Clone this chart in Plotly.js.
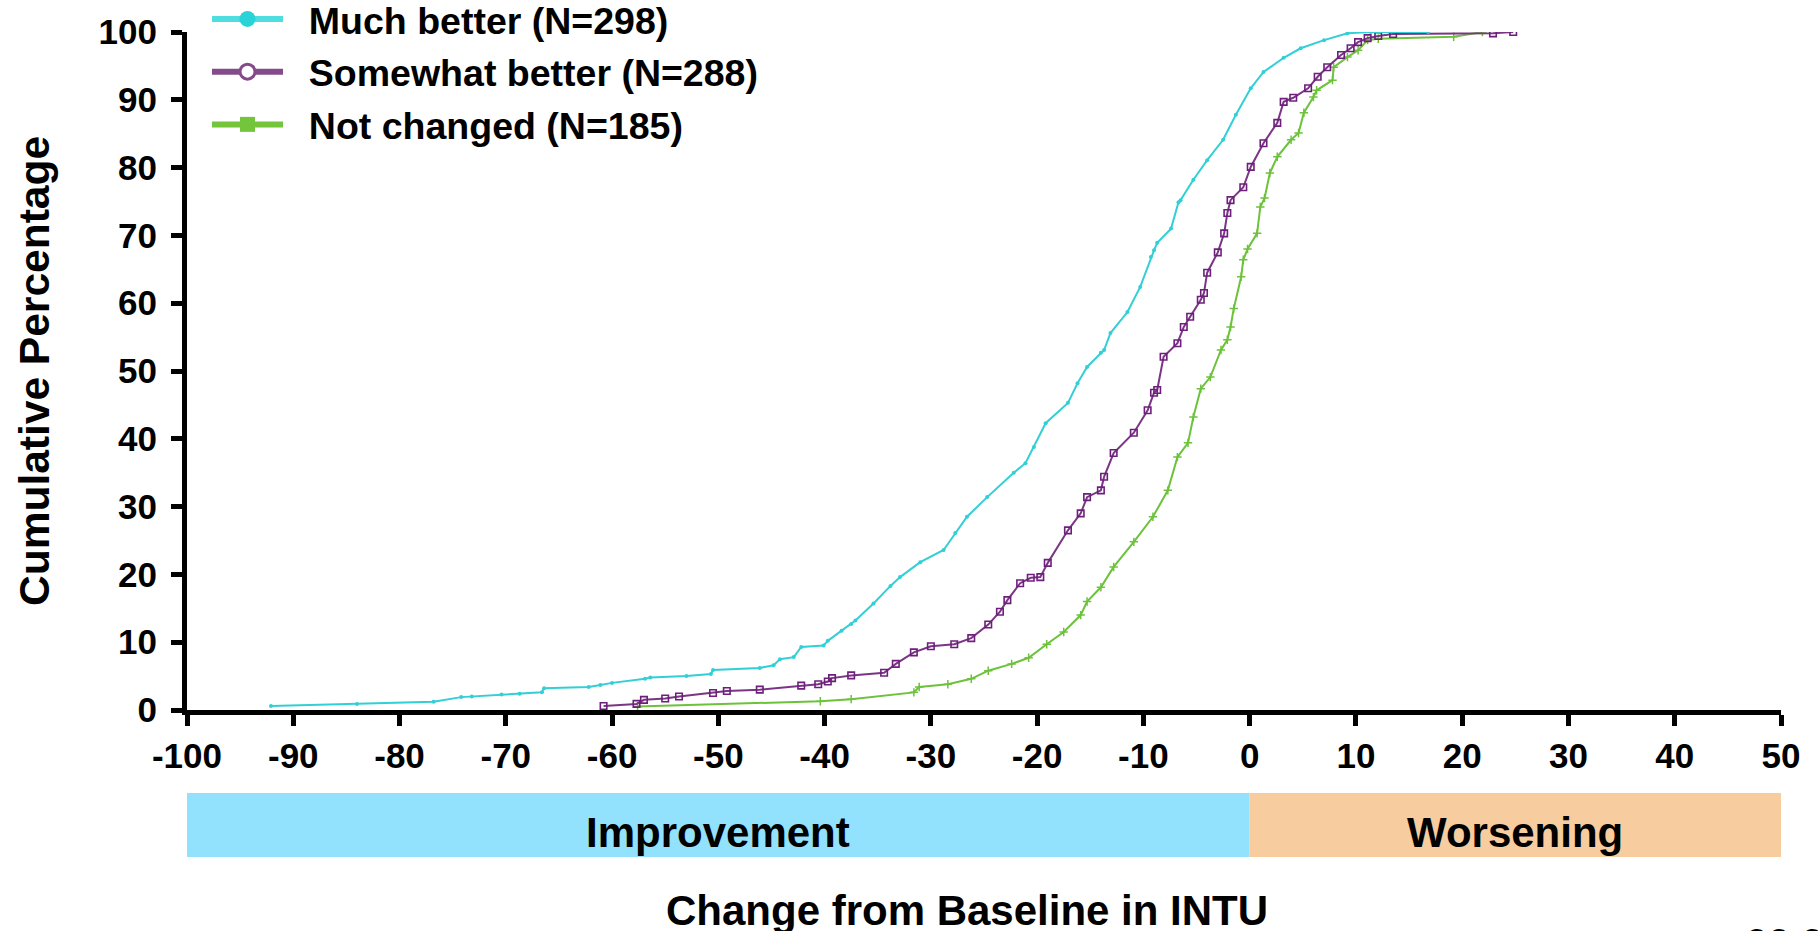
<!DOCTYPE html>
<html>
<head>
<meta charset="utf-8">
<script src="https://cdn.plot.ly/plotly-3.0.1.min.js"></script>
<style>html,body{margin:0;padding:0;background:#fff;}#chart{width:1818px;height:931px;}</style>
</head>
<body>
<div id="chart"></div>
<script>
// Cumulative distribution of change from baseline in INTU, by PGIC category
const muchBetterX = [-92.1, -84.0, -76.8, -74.2, -73.2, -70.4, -68.7, -66.6, -66.4, -62.2, -61.1, -60.0, -56.9, -56.4, -53.0, -50.7, -50.5, -46.1, -44.8, -44.2, -42.9, -42.2, -40.1, -39.7, -38.4, -37.5, -37.1, -35.4, -33.8, -32.9, -31.0, -28.8, -27.7, -26.6, -24.7, -22.2, -21.1, -20.3, -19.2, -17.1, -16.2, -15.3, -14.0, -13.7, -13.1, -11.5, -10.3, -9.3, -9.0, -8.7, -7.4, -6.7, -6.5, -5.3, -4.0, -2.5, -1.3, 0.1, 1.3, 3.2, 4.8, 7.0, 9.2, 11.4, 16.8];
const muchBetterY = [0.6, 0.9, 1.2, 1.9, 2.0, 2.3, 2.4, 2.6, 3.2, 3.4, 3.7, 4.0, 4.6, 4.8, 5.0, 5.3, 5.9, 6.2, 6.6, 7.5, 7.8, 9.3, 9.5, 10.2, 11.7, 12.7, 13.2, 15.7, 18.3, 19.6, 21.8, 23.6, 26.1, 28.5, 31.4, 35.0, 36.4, 38.8, 42.3, 45.3, 48.2, 50.6, 52.7, 53.1, 55.6, 58.7, 62.4, 66.8, 67.8, 68.9, 71.0, 74.9, 75.2, 78.2, 81.1, 84.1, 87.8, 91.7, 94.1, 96.2, 97.6, 98.8, 99.8, 100, 100];

const somewhatBetterX = [-60.8, -57.7, -57.0, -55.0, -53.7, -50.5, -49.2, -46.1, -42.2, -40.6, -39.7, -39.3, -37.5, -34.4, -33.3, -31.6, -30.0, -27.8, -26.2, -24.6, -23.5, -22.8, -21.6, -20.6, -19.7, -19.0, -17.1, -15.9, -15.3, -14.0, -13.7, -12.8, -10.9, -9.6, -9.0, -8.7, -8.1, -6.8, -6.2, -5.6, -4.6, -4.3, -4.0, -3.0, -2.4, -2.1, -1.8, -0.6, 0.1, 1.3, 2.6, 3.2, 4.1, 5.5, 6.4, 7.3, 8.6, 9.5, 10.2, 11.1, 12.1, 13.5, 22.9, 24.8];
const somewhatBetterY = [0.6, 0.9, 1.5, 1.7, 2.0, 2.5, 2.8, 3.0, 3.6, 3.8, 4.2, 4.7, 5.1, 5.5, 6.8, 8.5, 9.4, 9.7, 10.6, 12.6, 14.5, 16.2, 18.7, 19.5, 19.6, 21.7, 26.5, 29.0, 31.4, 32.4, 34.4, 37.9, 40.9, 44.2, 46.8, 47.2, 52.1, 54.1, 56.5, 58.0, 60.5, 61.5, 64.5, 67.5, 70.3, 73.3, 75.2, 77.1, 80.1, 83.6, 86.6, 89.7, 90.3, 91.7, 93.4, 94.8, 96.6, 97.6, 98.5, 99.1, 99.4, 99.7, 99.8, 100];

const notChangedX = [-57.6, -40.4, -37.5, -31.6, -31.1, -28.4, -26.2, -24.6, -22.4, -20.8, -19.1, -17.5, -15.9, -15.3, -14.0, -12.8, -10.9, -9.1, -7.7, -6.8, -5.8, -5.3, -4.6, -3.7, -2.7, -2.1, -1.8, -1.5, -0.8, -0.6, -0.2, 0.7, 1.0, 1.4, 1.9, 2.6, 3.9, 4.6, 5.1, 6.0, 6.3, 7.8, 7.9, 9.2, 10.2, 11.1, 12.1, 19.2, 21.9];
const notChangedY = [0.5, 1.3, 1.6, 2.6, 3.4, 3.8, 4.6, 5.8, 6.8, 7.7, 9.7, 11.5, 14.0, 16.0, 18.1, 21.1, 24.8, 28.5, 32.4, 37.3, 39.4, 43.2, 47.4, 49.1, 53.1, 54.6, 56.5, 59.2, 63.9, 66.4, 68.0, 70.3, 74.2, 75.5, 79.2, 81.6, 84.1, 85.1, 88.1, 90.4, 91.4, 92.9, 94.8, 96.3, 97.3, 98.8, 99.0, 99.3, 100];

const seriesNames = ["Much better (N=298)", "Somewhat better (N=288)", "Not changed (N=185)"];
const xTicks = [-100, -90, -80, -70, -60, -50, -40, -30, -20, -10, 0, 10, 20, 30, 40, 50];
const yTicks = [0, 10, 20, 30, 40, 50, 60, 70, 80, 90, 100];
const bandLabels = ["Improvement", "Worsening"];
const bandRanges = [[-100, 0], [0, 50]];
const xTitle = "Change from Baseline in INTU";
const yTitle = "Cumulative Percentage";

const FONT = "Liberation Sans, Arial, Helvetica, sans-serif";
const CYAN = "#33CFD6", PURPLE = "#6E1F7C", GREEN = "#6CC23A";
const NB = "\u00A0\u00A0";

const traces = [
  {x: notChangedX, y: notChangedY, type: "scatter", mode: "lines+markers", showlegend: false,
   line: {color: GREEN, width: 2}, marker: {symbol: "cross-thin-open", size: 6, line: {color: GREEN, width: 1.5}}},
  {x: somewhatBetterX, y: somewhatBetterY, type: "scatter", mode: "lines+markers", showlegend: false,
   line: {color: "#7B3585", width: 2}, marker: {symbol: "square-open", size: 6.5, color: PURPLE, line: {color: PURPLE, width: 1.6}}},
  {x: muchBetterX, y: muchBetterY, type: "scatter", mode: "lines+markers", showlegend: false,
   line: {color: CYAN, width: 2}, marker: {symbol: "circle", size: 4, color: CYAN}},
  // legend entries
  {x: [null], y: [null], type: "scatter", mode: "lines+markers", name: NB + seriesNames[0], legendgroup: "a",
   line: {color: "#4FDDE0", width: 6}, marker: {symbol: "circle", size: 16, color: "#2AD3D8"}},
  {x: [null], y: [null], type: "scatter", mode: "lines+markers", name: NB + seriesNames[1], legendgroup: "b",
   line: {color: "#844B8B", width: 6}, marker: {symbol: "circle", size: 15, color: "#ffffff", line: {color: "#844B8B", width: 3}}},
  {x: [null], y: [null], type: "scatter", mode: "lines+markers", name: NB + seriesNames[2], legendgroup: "c",
   line: {color: "#74C43C", width: 6}, marker: {symbol: "square", size: 15, color: "#74C43C"}}
];

const PLOT_L = 187, PLOT_R = 1781, PLOT_T = 32, PLOT_B = 710;
const W = PLOT_R - PLOT_L, H = PLOT_B - PLOT_T;
const py = v => (PLOT_B - v) / H;   // pixel y -> paper y
const px = v => (v - PLOT_L) / W;   // pixel x -> paper x

const shapes = [
  {type: "rect", xref: "x", yref: "paper", x0: bandRanges[0][0], x1: bandRanges[0][1], y0: py(857), y1: py(793),
   fillcolor: "#92E1FD", line: {width: 0}, layer: "below"},
  {type: "rect", xref: "x", yref: "paper", x0: bandRanges[1][0], x1: bandRanges[1][1], y0: py(857), y1: py(793),
   fillcolor: "#F7CC9E", line: {width: 0}, layer: "below"}
];

const boldFont = (s) => ({family: FONT, size: s, color: "#000", weight: "bold"});

const annotations = [
  {text: bandLabels[0], xref: "x", yref: "paper", x: (bandRanges[0][0] + bandRanges[0][1]) / 2, y: py(832),
   showarrow: false, xanchor: "center", yanchor: "middle", font: boldFont(42)},
  {text: bandLabels[1], xref: "x", yref: "paper", x: (bandRanges[1][0] + bandRanges[1][1]) / 2, y: py(832),
   showarrow: false, xanchor: "center", yanchor: "middle", font: boldFont(42)},
  {text: xTitle, xref: "paper", yref: "paper", x: px(967), y: py(910),
   showarrow: false, xanchor: "center", yanchor: "middle", font: boldFont(42)},
  {text: "66.6", xref: "paper", yref: "paper", x: px(1743), y: py(919),
   showarrow: false, xanchor: "left", yanchor: "top", font: boldFont(40)}
];

const layout = {
  width: 1818, height: 931,
  margin: {l: PLOT_L, r: 1818 - PLOT_R, t: PLOT_T, b: 931 - PLOT_B, pad: 0, autoexpand: false},
  paper_bgcolor: "#fff", plot_bgcolor: "#fff",
  font: {family: FONT, color: "#000"},
  xaxis: {
    range: [-100, 50], tickvals: xTicks, ticktext: xTicks.map(String),
    showgrid: false, zeroline: false, showline: true, linecolor: "#000", linewidth: 5,
    ticks: "outside", ticklen: 11, tickwidth: 5, tickcolor: "#000",
    tickfont: boldFont(35),
    ticklabelstandoff: 0,
    automargin: false, fixedrange: true
  },
  yaxis: {
    range: [0, 100], tickvals: yTicks, ticktext: yTicks.map(String),
    showgrid: false, zeroline: false, showline: true, linecolor: "#000", linewidth: 5,
    ticks: "outside", ticklen: 11, tickwidth: 5, tickcolor: "#000",
    tickfont: boldFont(35),
    ticklabelstandoff: 7,
    title: {text: yTitle, font: boldFont(42.5), standoff: 37},
    automargin: false, fixedrange: true
  },
  legend: {
    x: px(207), y: 1 + 44 / H, xanchor: "left", yanchor: "top",
    bgcolor: "rgba(0,0,0,0)", borderwidth: 0, itemwidth: 71, tracegroupgap: 1,
    font: boldFont(37.5),
    traceorder: "grouped"
  },
  shapes: shapes,
  annotations: annotations,
  showlegend: true
};

Plotly.newPlot("chart", traces, layout, {displayModeBar: false, staticPlot: true});
</script>
</body>
</html>
